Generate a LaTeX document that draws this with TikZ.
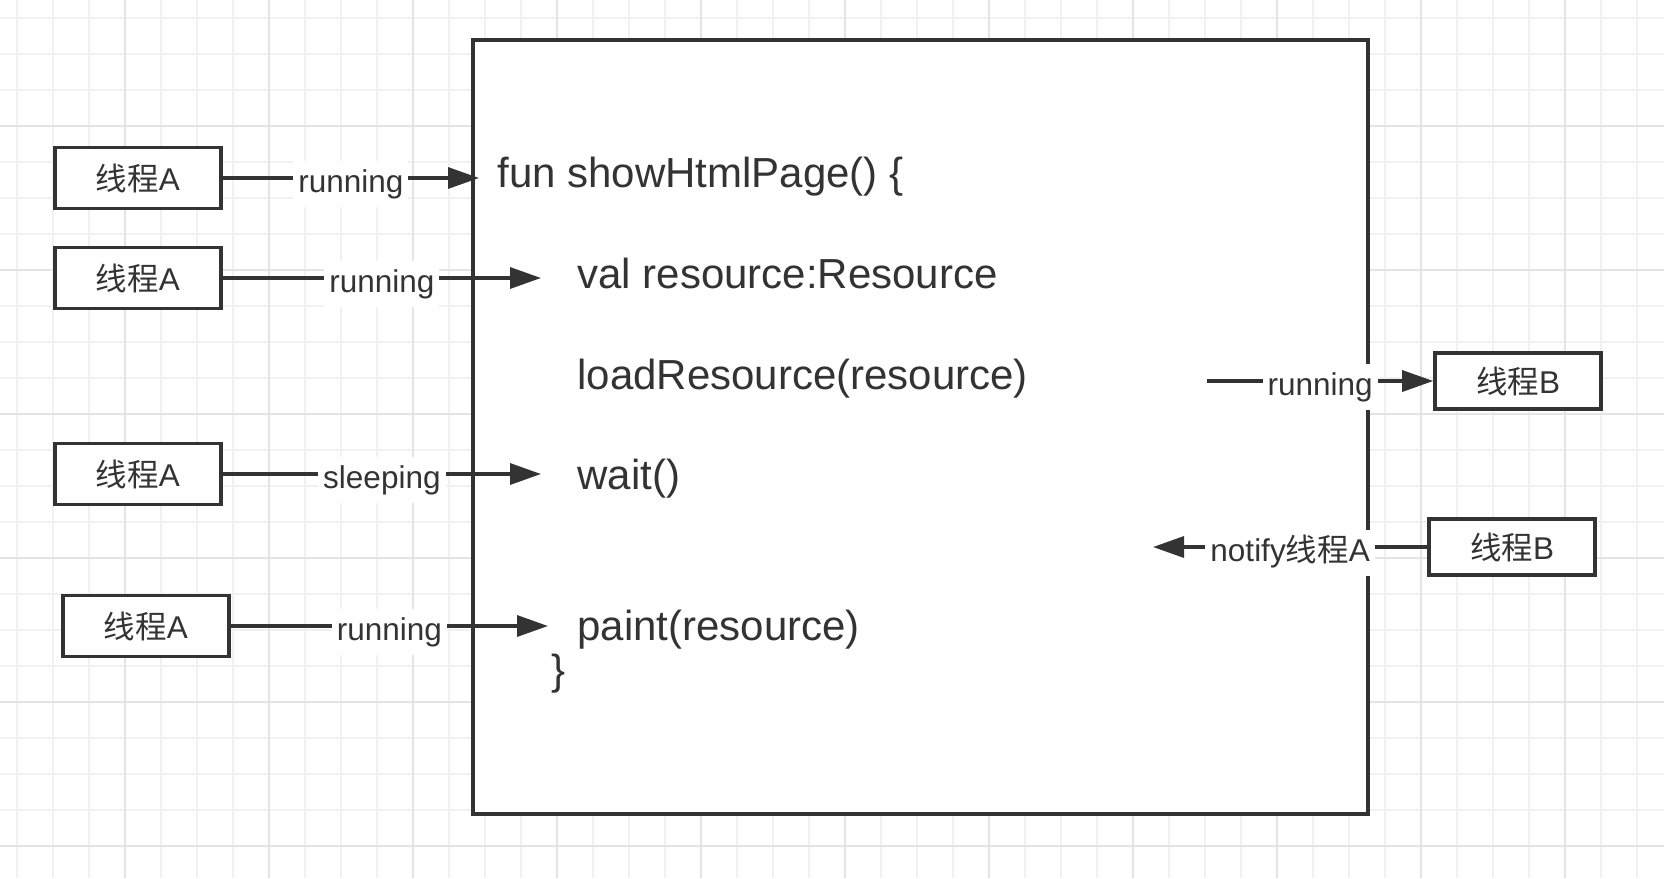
\documentclass[tikz,border=0pt]{standalone}
\usepackage{fontspec}
\setmainfont{Liberation Sans}
\newfontfamily\cjk{Noto Sans CJK SC}
\usetikzlibrary{arrows.meta}
\definecolor{ink}{HTML}{333333}
\definecolor{gridminor}{HTML}{F1F1F1}
\definecolor{gridmajor}{HTML}{E4E4E4}

\begin{document}
\begin{tikzpicture}[x=0.5pt,y=-0.5pt,
  thread/.style={draw=ink, line width=1.8pt, fill=white, minimum width=83pt,
    minimum height=30.5pt, inner sep=0pt, text=ink,
    font=\fontsize{15.75}{18}\selectfont},
  threadr/.style={thread, minimum height=27.75pt},
  code/.style={anchor=base west, inner sep=0pt, text=ink,
    font=\fontsize{21}{25}\selectfont},
  flow/.style={draw=ink, line width=1.65pt,
    -{Triangle[length=15.5pt,width=10.5pt]}},
  lbl/.style={fill=white, text=ink, inner xsep=2.5pt, inner ysep=3.8pt,
    text height=12pt, text depth=3.5pt, yshift=-2.8pt,
    font=\fontsize{15.75}{18}\selectfont}
]
% page and background grid
\useasboundingbox (0,0) rectangle (1664,878);
\fill[white] (0,0) rectangle (1664,878);
\foreach \k in {0,...,45}
  \draw[gridminor, line width=1pt] ({17+36*\k},0) -- ({17+36*\k},878);
\foreach \k in {0,...,23}
  \draw[gridminor, line width=1pt] (0,{18+36*\k}) -- (1664,{18+36*\k});
\foreach \k in {0,...,10}
  \draw[gridmajor, line width=1pt] ({125+144*\k},0) -- ({125+144*\k},878);
\foreach \k in {0,...,5}
  \draw[gridmajor, line width=1pt] (0,{126+144*\k}) -- (1664,{126+144*\k});

% function body frame
\draw[ink, line width=2.4pt, fill=white] (473,40) rectangle (1368,814);

% source lines
\node[code] (fn)    at (497,187) {fun showHtmlPage() \{};
\node[code] (decl)  at (577,288) {val resource:Resource};
\node[code] (load)  at (577,389) {loadResource(resource)};
\node[code] (wt)    at (577,489) {wait()};
\node[code] (paint) at (577,640) {paint(resource)};
\node[code] (close) at (551,684) {\}};

% threads
\node[thread]  (a1) at (138,178) {{\cjk 线程}A};
\node[thread]  (a2) at (138,278) {{\cjk 线程}A};
\node[thread]  (a3) at (138,474) {{\cjk 线程}A};
\node[thread]  (a4) at (146,626) {{\cjk 线程}A};
\node[threadr] (b1) at (1518,381) {{\cjk 线程}B};
\node[threadr] (b2) at (1512,547) {{\cjk 线程}B};

% arrow ends
\coordinate (t1) at (479,178);
\coordinate (t2) at (541,278);
\coordinate (t3) at (541,474);
\coordinate (t4) at (548,626);
\coordinate (s5) at (1207,381);
\coordinate (t6) at (1153,547);

% connectors
\draw[flow] (a1.east) -- node[lbl] {running} (t1);
\draw[flow] (a2.east) -- node[lbl] {running} (t2);
\draw[flow] (a3.east) -- node[lbl] {sleeping} (t3);
\draw[flow] (a4.east) -- node[lbl] {running} (t4);
\draw[flow] (s5) -- node[lbl] {running} (b1.west);
\draw[flow] (b2.west) -- node[lbl] {notify{\cjk 线程}A} (t6);
\end{tikzpicture}
\end{document}
